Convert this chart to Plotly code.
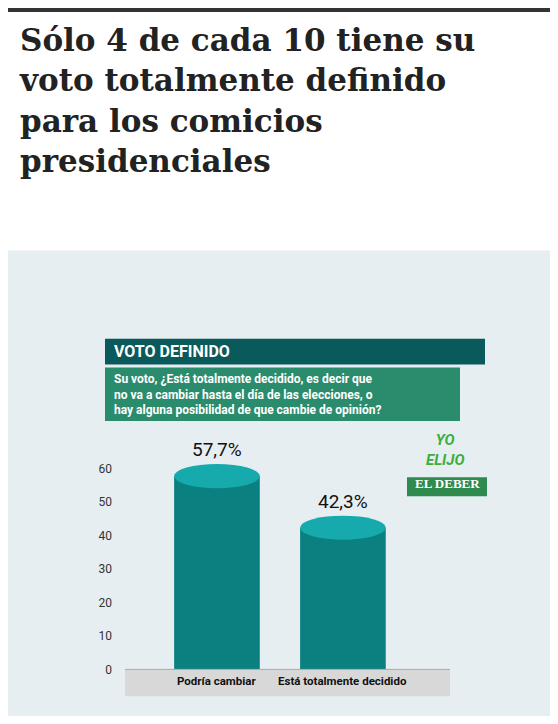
import plotly.graph_objects as go

categories = ["Podría cambiar", "Está totalmente decidido"]
values = [57.7, 42.3]
value_labels = ["57,7%", "42,3%"]
tick_vals = [0, 10, 20, 30, 40, 50, 60]

# the page body keeps an 8px margin
OFF = 8
W, H = 558 - 2 * OFF, 724 - 2 * OFF
BODY = "#0b8080"
TOP = "#17aaad"
COND = "Roboto, sans-serif"


def py(pix):
    return 1 - pix / H


def px_(pix):
    return (pix - OFF) / W


fig = go.Figure()
fig.add_trace(go.Bar(
    x=[0, 1], y=values, width=0.68, marker=dict(color=BODY, line_width=0),
    hoverinfo="skip",
))

shapes = [
    dict(type="rect", xref="paper", yref="paper", x0=-0.02, x1=1.02, y0=-0.02, y1=py(245),
         fillcolor="#e6eef2", line_width=0, layer="below"),
    dict(type="rect", xref="paper", yref="paper", x0=-0.02, x1=1.02, y0=py(4), y1=1.02,
         fillcolor="#333", line_width=0),
    dict(type="rect", xref="paper", yref="paper", x0=px_(125), x1=px_(450),
         y0=py(695), y1=py(668), fillcolor="#d8d8d8", line_width=0, layer="below"),
    dict(type="line", xref="paper", yref="paper", x0=px_(125), x1=px_(450),
         y0=py(668), y1=py(668), line=dict(color="#aaa", width=1)),
    dict(type="rect", xref="paper", yref="paper", x0=px_(105), x1=px_(485),
         y0=py(360), y1=py(334), fillcolor="#0a5a5c", line_width=0),
    dict(type="rect", xref="paper", yref="paper", x0=px_(105), x1=px_(460),
         y0=py(417), y1=py(363), fillcolor="#2a8c6c", line_width=0),
    dict(type="rect", xref="paper", yref="paper", x0=px_(407), x1=px_(487),
         y0=py(493), y1=py(474), fillcolor="#2f8a4e", line_width=0),
]
# elliptical tops of the cylinders
for i, v in enumerate(values):
    shapes.append(dict(type="circle", xref="x", yref="y", x0=i - 0.34, x1=i + 0.34,
                       y0=v - 3.6, y1=v + 3.6, fillcolor=TOP, line_width=0))

ann = [
    dict(text="<b>Sólo 4 de cada 10 tiene su<br>voto totalmente definido<br>para los comicios<br>presidenciales</b>",
         x=px_(17), y=py(12), xanchor="left", yanchor="top", align="left",
         font=dict(family="DejaVu Serif, serif", size=31, color="#222"),
         showarrow=False, xref="paper", yref="paper"),
    dict(text="<b>VOTO DEFINIDO</b>", x=px_(112), y=py(347), xanchor="left",
         font=dict(family=COND, size=16, color="white"),
         showarrow=False, xref="paper", yref="paper"),
    dict(text="<b>Su voto, ¿Está totalmente decidido, es decir que<br>no va a cambiar hasta el día de las elecciones, o<br>hay alguna posibilidad de que cambie de opinión?</b>",
         x=px_(112), y=py(390), xanchor="left", align="left",
         font=dict(family=COND, size=12, color="white"),
         showarrow=False, xref="paper", yref="paper"),
    dict(text="<b><i>YO<br>ELIJO</i></b>", x=px_(445), y=py(446), xanchor="center",
         align="center", font=dict(family=COND, size=15, color="#3cae3c"),
         showarrow=False, xref="paper", yref="paper"),
    dict(text="<b>EL DEBER</b>", x=px_(447), y=py(490), xanchor="center",
         font=dict(family="Liberation Serif, serif", size=13, color="white"),
         showarrow=False, xref="paper", yref="paper"),
]
for i, (v, t) in enumerate(zip(values, value_labels)):
    ann.append(dict(text=t, x=i, y=v + 3.8, xref="x", yref="y", yanchor="bottom",
                    font=dict(family=COND, size=19, color="#111"), showarrow=False))
for i, c in enumerate(categories):
    ann.append(dict(text="<b>" + c + "</b>", x=i, y=py(689), xref="x", yref="paper",
                    font=dict(family=COND, size=11.5, color="#111"), showarrow=False))

fig.update_layout(
    width=W, height=H, margin=dict(l=0, r=0, t=0, b=0),
    paper_bgcolor="white", plot_bgcolor="rgba(0,0,0,0)", showlegend=False,
    shapes=shapes, annotations=ann,
    xaxis=dict(domain=[px_(125), px_(450)], range=[-0.73, 1.85],
               showticklabels=False, showgrid=False, zeroline=False),
    yaxis=dict(domain=[py(668), py(455)], range=[0, 62.96], tickvals=tick_vals,
               showgrid=False, zeroline=False, ticks="", ticklabelstandoff=12,
               tickfont=dict(family=COND, size=12, color="#333")),
)
fig.write_html("out.html")
